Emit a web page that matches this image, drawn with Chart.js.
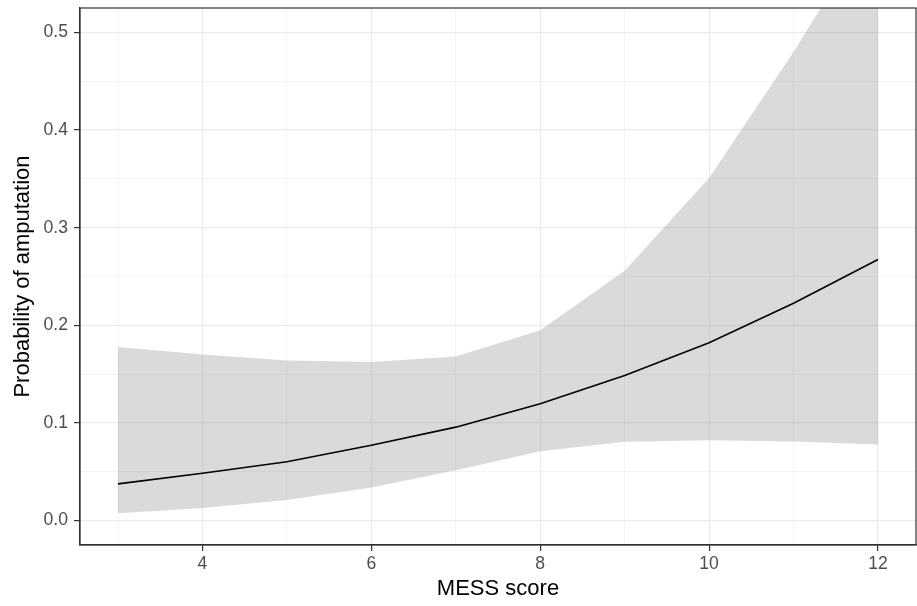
<!DOCTYPE html>
<html>
<head>
<meta charset="utf-8">
<script src="https://cdn.jsdelivr.net/npm/chart.js@4"></script>
<style>
  body { margin: 0; background: #fff; }
  canvas { display: block; }
</style>
</head>
<body>
<canvas id="chart" width="917" height="606"></canvas>
<script>
// MESS score vs predicted probability of amputation (with 95% band)
const mess = [3, 4, 5, 6, 7, 8, 9, 10, 11, 12];
const fit = [0.0376, 0.0485, 0.0602, 0.0772, 0.0957, 0.1197, 0.1487, 0.1822, 0.2226, 0.2674];
const upper = [0.1777, 0.170, 0.164, 0.1624, 0.168, 0.195, 0.256, 0.351, 0.48, 0.62];
const lower = [0.0075, 0.013, 0.0212, 0.034, 0.0515, 0.071, 0.0807, 0.0824, 0.081, 0.078];

const xTicks = [3, 4, 5, 6, 7, 8, 9, 10, 11, 12];
const xLabels = [4, 6, 8, 10, 12];
const yTicks = [0, 0.05, 0.1, 0.15, 0.2, 0.25, 0.3, 0.35, 0.4, 0.45, 0.5];
const yLabels = [0, 0.1, 0.2, 0.3, 0.4, 0.5];

const pts = arr => arr.map((v, i) => ({ x: mess[i], y: v }));
const isXMajor = v => xLabels.includes(v);
const isYMajor = v => yLabels.some(l => Math.abs(l - v) < 1e-9);

const FONT = "'Liberation Sans', Arial, sans-serif";

const panelBorder = {
  id: 'panelBorder',
  afterDraw(chart) {
    const a = chart.chartArea;
    const ctx = chart.ctx;
    ctx.save();
    ctx.strokeStyle = '#333333';
    ctx.lineWidth = 1.2;
    ctx.strokeRect(a.left, a.top, a.right - a.left, a.bottom - a.top);
    ctx.restore();
  }
};

// no extra room for half tick labels: panel edges are fixed by layout padding
const noPad = s => { s.paddingTop = 0; s.paddingBottom = 0; s.paddingLeft = 0; s.paddingRight = 0; };

new Chart(document.getElementById('chart').getContext('2d'), {
  type: 'line',
  data: {
    datasets: [
      { label: 'fit', data: pts(fit), borderColor: '#000', borderWidth: 1.6,
        pointRadius: 0, tension: 0, fill: false },
      { label: 'lower', data: pts(lower), borderWidth: 0, borderColor: 'rgba(0,0,0,0)',
        pointRadius: 0, tension: 0, fill: false },
      { label: 'upper', data: pts(upper), borderWidth: 0, borderColor: 'rgba(0,0,0,0)',
        pointRadius: 0, tension: 0, fill: 1, backgroundColor: 'rgba(153,153,153,0.36)' }
    ]
  },
  options: {
    responsive: false,
    animation: false,
    layout: { padding: { top: 8, right: 1, left: 0, bottom: 0 } },
    plugins: { legend: { display: false }, tooltip: { enabled: false } },
    scales: {
      x: {
        type: 'linear',
        min: 2.55,
        max: 12.45,
        afterBuildTicks: s => { s.ticks = xTicks.map(v => ({ value: v })); },
        afterFit: s => { s.height = 61; noPad(s); },
        grid: {
          color: '#ebebeb',
          lineWidth: c => isXMajor(c.tick.value) ? 1.2 : 0.6,
          tickColor: c => isXMajor(c.tick.value) ? '#333333' : 'rgba(0,0,0,0)',
          tickLength: 6,
          tickWidth: 1.2
        },
        border: { color: '#333333', width: 1.2 },
        ticks: {
          autoSkip: false,
          maxRotation: 0,
          padding: 3,
          color: '#4d4d4d',
          font: { family: FONT, size: 17.6 },
          callback: v => isXMajor(v) ? String(v) : ''
        },
        title: {
          display: true,
          text: 'MESS score',
          color: '#000',
          font: { family: FONT, size: 22 },
          padding: { top: 0, bottom: 4 }
        }
      },
      y: {
        min: -0.025,
        max: 0.525,
        afterBuildTicks: s => { s.ticks = yTicks.map(v => ({ value: v })); },
        afterFit: s => { s.width = 80; noPad(s); },
        grid: {
          color: '#ebebeb',
          lineWidth: c => isYMajor(c.tick.value) ? 1.2 : 0.6,
          tickColor: c => isYMajor(c.tick.value) ? '#333333' : 'rgba(0,0,0,0)',
          tickLength: 6,
          tickWidth: 1.2
        },
        border: { color: '#333333', width: 1.2 },
        ticks: {
          autoSkip: false,
          padding: 6,
          color: '#4d4d4d',
          font: { family: FONT, size: 17.6 },
          callback: v => isYMajor(v) ? v.toFixed(1) : ''
        },
        title: {
          display: true,
          text: 'Probability of amputation',
          color: '#000',
          font: { family: FONT, size: 22 },
          padding: { top: 10, bottom: 0 }
        }
      }
    }
  },
  plugins: [panelBorder]
});
</script>
</body>
</html>
